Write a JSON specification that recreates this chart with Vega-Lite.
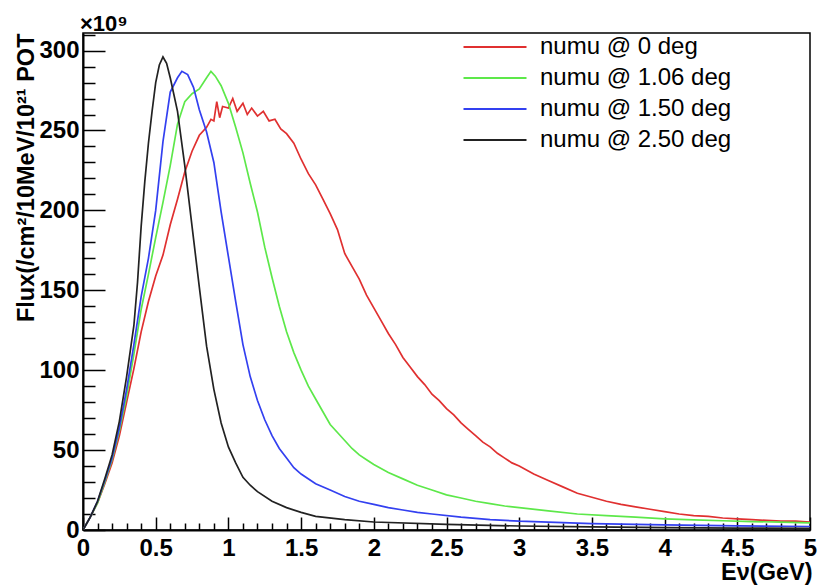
{
  "$schema": "https://vega.github.io/schema/vega-lite/v6.json",
  "width": 727,
  "height": 497,
  "autosize": {"type": "none"},
  "padding": {"left": 83, "top": 33, "right": 11, "bottom": 57},
  "background": "white",
  "title": {"text": "×10⁹", "anchor": "start", "frame": "group", "font": "Liberation Sans", "fontSize": 22, "fontWeight": "bold", "color": "black", "offset": 1, "baseline": "alphabetic", "dx": -3, "dy": 31},
  "config": {
    "view": {"stroke": "black", "strokeWidth": 1.5},
    "axis": {"grid": false, "domainColor": "black", "domainWidth": 2, "tickColor": "black", "tickWidth": 1.5, "labelFont": "Liberation Sans", "labelFontSize": 24, "labelFontWeight": "bold", "labelColor": "black", "titleFont": "Liberation Sans", "titleFontSize": 23.5, "titleFontWeight": "bold", "titleColor": "black", "labelOverlap": false, "labelFlush": false}
  },
  "data": {"values": [
    {"s":"0","E":0,"F":0},{"s":"0","E":0.05,"F":8},{"s":"0","E":0.1,"F":17},{"s":"0","E":0.15,"F":29},{"s":"0","E":0.2,"F":42},{"s":"0","E":0.25,"F":59},{"s":"0","E":0.3,"F":80},{"s":"0","E":0.35,"F":101},{"s":"0","E":0.4,"F":124},{"s":"0","E":0.45,"F":143},{"s":"0","E":0.5,"F":159},{"s":"0","E":0.55,"F":172},{"s":"0","E":0.6,"F":191},{"s":"0","E":0.65,"F":207},{"s":"0","E":0.7,"F":224},{"s":"0","E":0.75,"F":237},{"s":"0","E":0.8,"F":247},{"s":"0","E":0.85,"F":252},{"s":"0","E":0.88,"F":257},{"s":"0","E":0.9,"F":256},{"s":"0","E":0.92,"F":268},{"s":"0","E":0.94,"F":258},{"s":"0","E":0.96,"F":265},{"s":"0","E":1.0,"F":264},{"s":"0","E":1.03,"F":270},{"s":"0","E":1.06,"F":262},{"s":"0","E":1.1,"F":267},{"s":"0","E":1.13,"F":260},{"s":"0","E":1.16,"F":264},{"s":"0","E":1.2,"F":259},{"s":"0","E":1.24,"F":262},{"s":"0","E":1.28,"F":256},{"s":"0","E":1.32,"F":257},{"s":"0","E":1.36,"F":251},{"s":"0","E":1.4,"F":248},{"s":"0","E":1.45,"F":242},{"s":"0","E":1.5,"F":232},{"s":"0","E":1.55,"F":223},{"s":"0","E":1.6,"F":216},{"s":"0","E":1.65,"F":207},{"s":"0","E":1.7,"F":198},{"s":"0","E":1.75,"F":188},{"s":"0","E":1.8,"F":173},{"s":"0","E":1.85,"F":165},{"s":"0","E":1.9,"F":157},{"s":"0","E":1.95,"F":147},{"s":"0","E":2.0,"F":139},{"s":"0","E":2.05,"F":131},{"s":"0","E":2.1,"F":123},{"s":"0","E":2.15,"F":116},{"s":"0","E":2.2,"F":108},{"s":"0","E":2.25,"F":102},{"s":"0","E":2.3,"F":96},{"s":"0","E":2.35,"F":91},{"s":"0","E":2.4,"F":85},{"s":"0","E":2.45,"F":81},{"s":"0","E":2.5,"F":76},{"s":"0","E":2.55,"F":72},{"s":"0","E":2.6,"F":67},{"s":"0","E":2.65,"F":63},{"s":"0","E":2.7,"F":59},{"s":"0","E":2.75,"F":55},{"s":"0","E":2.8,"F":52},{"s":"0","E":2.85,"F":48},{"s":"0","E":2.9,"F":45},{"s":"0","E":2.95,"F":42},{"s":"0","E":3.0,"F":40},{"s":"0","E":3.1,"F":35},{"s":"0","E":3.2,"F":31},{"s":"0","E":3.3,"F":27},{"s":"0","E":3.4,"F":23},{"s":"0","E":3.5,"F":20.5},{"s":"0","E":3.6,"F":18},{"s":"0","E":3.7,"F":16},{"s":"0","E":3.8,"F":14.5},{"s":"0","E":3.9,"F":13},{"s":"0","E":4.0,"F":11.5},{"s":"0","E":4.1,"F":10},{"s":"0","E":4.2,"F":9},{"s":"0","E":4.3,"F":8.5},{"s":"0","E":4.4,"F":7.5},{"s":"0","E":4.5,"F":7},{"s":"0","E":4.6,"F":6.5},{"s":"0","E":4.7,"F":6},{"s":"0","E":4.8,"F":5.5},{"s":"0","E":4.9,"F":5.5},{"s":"0","E":5.0,"F":5},
    {"s":"1.06","E":0,"F":0},{"s":"1.06","E":0.05,"F":8},{"s":"1.06","E":0.1,"F":17},{"s":"1.06","E":0.15,"F":30},{"s":"1.06","E":0.2,"F":44},{"s":"1.06","E":0.25,"F":62},{"s":"1.06","E":0.3,"F":84},{"s":"1.06","E":0.35,"F":110},{"s":"1.06","E":0.4,"F":138},{"s":"1.06","E":0.45,"F":160},{"s":"1.06","E":0.5,"F":183},{"s":"1.06","E":0.55,"F":205},{"s":"1.06","E":0.6,"F":228},{"s":"1.06","E":0.65,"F":254},{"s":"1.06","E":0.7,"F":268},{"s":"1.06","E":0.75,"F":273},{"s":"1.06","E":0.8,"F":276},{"s":"1.06","E":0.85,"F":283},{"s":"1.06","E":0.88,"F":287},{"s":"1.06","E":0.91,"F":284},{"s":"1.06","E":0.95,"F":278},{"s":"1.06","E":1.0,"F":267},{"s":"1.06","E":1.05,"F":252},{"s":"1.06","E":1.1,"F":236},{"s":"1.06","E":1.15,"F":217},{"s":"1.06","E":1.2,"F":199},{"s":"1.06","E":1.25,"F":177},{"s":"1.06","E":1.3,"F":158},{"s":"1.06","E":1.35,"F":140},{"s":"1.06","E":1.4,"F":124},{"s":"1.06","E":1.45,"F":111},{"s":"1.06","E":1.5,"F":100},{"s":"1.06","E":1.55,"F":90},{"s":"1.06","E":1.6,"F":82},{"s":"1.06","E":1.65,"F":74},{"s":"1.06","E":1.7,"F":66},{"s":"1.06","E":1.75,"F":61},{"s":"1.06","E":1.8,"F":56},{"s":"1.06","E":1.85,"F":51},{"s":"1.06","E":1.9,"F":47},{"s":"1.06","E":1.95,"F":44},{"s":"1.06","E":2.0,"F":41},{"s":"1.06","E":2.1,"F":36},{"s":"1.06","E":2.2,"F":32},{"s":"1.06","E":2.3,"F":28},{"s":"1.06","E":2.4,"F":25},{"s":"1.06","E":2.5,"F":22},{"s":"1.06","E":2.6,"F":20},{"s":"1.06","E":2.7,"F":18},{"s":"1.06","E":2.8,"F":16.5},{"s":"1.06","E":2.9,"F":15},{"s":"1.06","E":3.0,"F":14},{"s":"1.06","E":3.2,"F":12},{"s":"1.06","E":3.4,"F":10},{"s":"1.06","E":3.6,"F":9},{"s":"1.06","E":3.8,"F":8},{"s":"1.06","E":4.0,"F":7},{"s":"1.06","E":4.2,"F":6.3},{"s":"1.06","E":4.4,"F":5.8},{"s":"1.06","E":4.6,"F":5.3},{"s":"1.06","E":4.8,"F":4.9},{"s":"1.06","E":5.0,"F":4.5},
    {"s":"1.50","E":0,"F":0},{"s":"1.50","E":0.05,"F":8},{"s":"1.50","E":0.1,"F":18},{"s":"1.50","E":0.15,"F":31},{"s":"1.50","E":0.2,"F":45},{"s":"1.50","E":0.25,"F":64},{"s":"1.50","E":0.3,"F":88},{"s":"1.50","E":0.35,"F":116},{"s":"1.50","E":0.4,"F":146},{"s":"1.50","E":0.45,"F":170},{"s":"1.50","E":0.5,"F":200},{"s":"1.50","E":0.55,"F":243},{"s":"1.50","E":0.6,"F":274},{"s":"1.50","E":0.65,"F":283},{"s":"1.50","E":0.68,"F":287},{"s":"1.50","E":0.72,"F":285},{"s":"1.50","E":0.76,"F":277},{"s":"1.50","E":0.8,"F":263},{"s":"1.50","E":0.85,"F":249},{"s":"1.50","E":0.9,"F":230},{"s":"1.50","E":0.95,"F":199},{"s":"1.50","E":1.0,"F":171},{"s":"1.50","E":1.05,"F":143},{"s":"1.50","E":1.1,"F":116},{"s":"1.50","E":1.15,"F":96},{"s":"1.50","E":1.2,"F":81},{"s":"1.50","E":1.25,"F":69},{"s":"1.50","E":1.3,"F":59},{"s":"1.50","E":1.35,"F":51},{"s":"1.50","E":1.4,"F":45},{"s":"1.50","E":1.45,"F":39},{"s":"1.50","E":1.5,"F":35},{"s":"1.50","E":1.6,"F":29},{"s":"1.50","E":1.7,"F":25},{"s":"1.50","E":1.8,"F":21},{"s":"1.50","E":1.9,"F":18},{"s":"1.50","E":2.0,"F":16},{"s":"1.50","E":2.1,"F":14},{"s":"1.50","E":2.2,"F":12.5},{"s":"1.50","E":2.3,"F":11},{"s":"1.50","E":2.4,"F":10},{"s":"1.50","E":2.6,"F":8},{"s":"1.50","E":2.8,"F":6.5},{"s":"1.50","E":3.0,"F":5.5},{"s":"1.50","E":3.25,"F":4.8},{"s":"1.50","E":3.5,"F":4},{"s":"1.50","E":4.0,"F":3.2},{"s":"1.50","E":4.5,"F":2.6},{"s":"1.50","E":5.0,"F":2.2},
    {"s":"2.50","E":0,"F":0},{"s":"2.50","E":0.05,"F":8},{"s":"2.50","E":0.1,"F":18},{"s":"2.50","E":0.15,"F":32},{"s":"2.50","E":0.2,"F":47},{"s":"2.50","E":0.25,"F":68},{"s":"2.50","E":0.3,"F":96},{"s":"2.50","E":0.35,"F":128},{"s":"2.50","E":0.375,"F":155},{"s":"2.50","E":0.4,"F":190},{"s":"2.50","E":0.425,"F":218},{"s":"2.50","E":0.45,"F":242},{"s":"2.50","E":0.475,"F":262},{"s":"2.50","E":0.5,"F":280},{"s":"2.50","E":0.525,"F":291},{"s":"2.50","E":0.55,"F":296},{"s":"2.50","E":0.575,"F":292},{"s":"2.50","E":0.6,"F":283},{"s":"2.50","E":0.65,"F":262},{"s":"2.50","E":0.7,"F":228},{"s":"2.50","E":0.75,"F":190},{"s":"2.50","E":0.8,"F":152},{"s":"2.50","E":0.85,"F":115},{"s":"2.50","E":0.9,"F":88},{"s":"2.50","E":0.95,"F":67},{"s":"2.50","E":1.0,"F":52},{"s":"2.50","E":1.05,"F":42},{"s":"2.50","E":1.1,"F":33},{"s":"2.50","E":1.15,"F":28},{"s":"2.50","E":1.2,"F":24},{"s":"2.50","E":1.3,"F":18},{"s":"2.50","E":1.4,"F":14},{"s":"2.50","E":1.5,"F":11},{"s":"2.50","E":1.6,"F":8.5},{"s":"2.50","E":1.8,"F":6.5},{"s":"2.50","E":2.0,"F":5},{"s":"2.50","E":2.5,"F":3.5},{"s":"2.50","E":3.0,"F":2.5},{"s":"2.50","E":3.5,"F":2},{"s":"2.50","E":4.0,"F":1.5},{"s":"2.50","E":4.5,"F":1.2},{"s":"2.50","E":5.0,"F":1}
  ]},
  "mark": {"type": "line", "strokeWidth": 1.7, "clip": true},
  "encoding": {
    "x": {"field": "E", "type": "quantitative", "scale": {"domain": [0, 5], "nice": false, "zero": false},
      "axis": {"title": "Eν(GeV)", "values": [0,0.1,0.2,0.3,0.4,0.5,0.6,0.7,0.8,0.9,1,1.1,1.2,1.3,1.4,1.5,1.6,1.7,1.8,1.9,2,2.1,2.2,2.3,2.4,2.5,2.6,2.7,2.8,2.9,3,3.1,3.2,3.3,3.4,3.5,3.6,3.7,3.8,3.9,4,4.1,4.2,4.3,4.4,4.5,4.6,4.7,4.8,4.9,5],
        "labelExpr": "abs(datum.value*2 - round(datum.value*2)) < 0.001 ? format(datum.value, '') : ''",
        "tickSize": {"condition": {"test": "abs(datum.value*2 - round(datum.value*2)) < 0.001", "value": -13}, "value": -7},
        "labelPadding": 19, "labelBaseline": "top",
        "titleX": 729, "titleY": 49, "titleAlign": "right", "titleBaseline": "alphabetic", "titleAnchor": "end"}},
    "y": {"field": "F", "type": "quantitative", "scale": {"domain": [0, 311], "nice": false},
      "axis": {"title": "Flux(/cm²/10MeV/10²¹ POT", "values": [0,10,20,30,40,50,60,70,80,90,100,110,120,130,140,150,160,170,180,190,200,210,220,230,240,250,260,270,280,290,300,310],
        "labelExpr": "datum.value % 50 === 0 ? datum.label : ''",
        "tickSize": {"condition": {"test": "datum.value % 50 === 0", "value": -22}, "value": -12},
        "labelPadding": 26, "labelBaseline": "middle",
        "titleAngle": -90, "titleX": -57, "titleY": 0, "titleAlign": "right", "titleBaseline": "middle", "titleAnchor": "end"}},
    "color": {"field": "s", "type": "nominal",
      "scale": {"domain": ["0", "1.06", "1.50", "2.50"], "range": ["#e03030", "#5de84a", "#3340f0", "#222222"]},
      "legend": {"title": null, "orient": "none", "legendX": 400, "legendY": 2, "symbolType": "M-3,0H3", "symbolSize": 441, "symbolStrokeWidth": 2, "symbolFillColor": "transparent", "rowPadding": 7, "padding": 0, "labelOffset": 33, "labelFont": "Liberation Sans", "labelFontSize": 24, "labelColor": "black", "labelExpr": "'numu @ ' + datum.label + ' deg'", "labelLimit": 400}}
  }
}
